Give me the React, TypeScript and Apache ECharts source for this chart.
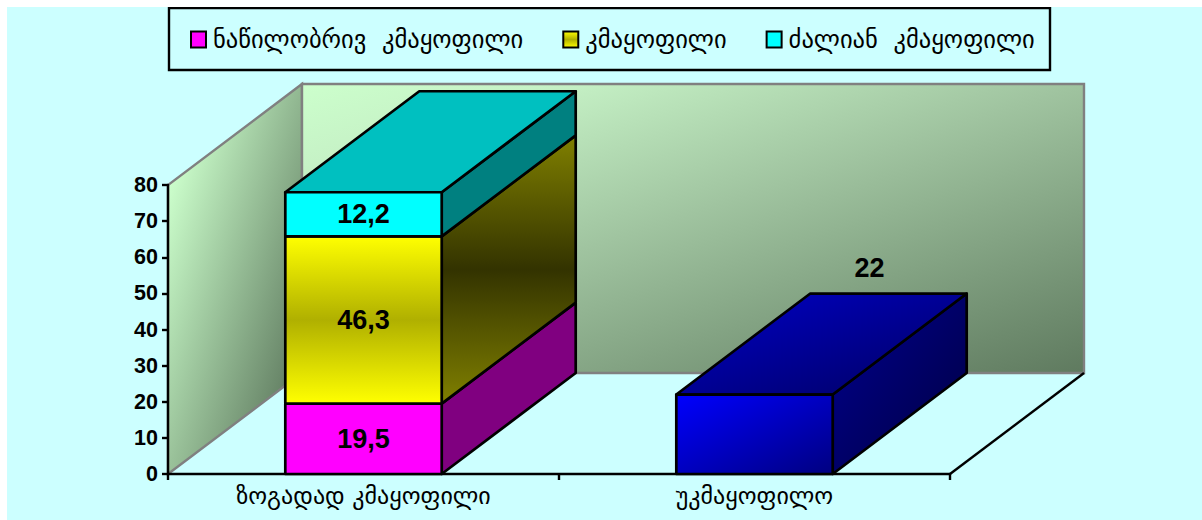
import React, { useEffect, useRef } from "react";
import * as echarts from "echarts";

const categories = ["ზოგადად კმაყოფილი", "უკმაყოფილო"];
const legendNames = ["ნაწილობრივ  კმაყოფილი", "კმაყოფილი", "ძალიან  კმაყოფილი"];
const partlySatisfied = [19.5, null];
const satisfied = [46.3, null];
const verySatisfied = [12.2, null];
const dissatisfied = [null, 22];
const yTicksMax = 80;
const yTickStep = 10;

const GV = (x: number, y: number, x2: number, y2: number, stops: [number, string][]) =>
  new echarts.graphic.LinearGradient(x, y, x2, y2, stops.map(([offset, color]) => ({ offset, color })));
const G = (x2: number, y2: number, stops: [number, string][]) => GV(0, 0, x2, y2, stops);

const DX = 134;
const DY = -101;
const LABEL_FONT = "bold 27px 'Liberation Sans', Arial, sans-serif";

const yellowFront = () => G(0, 1, [[0, "#FFFF00"], [0.5, "#B0B000"], [1, "#FFFF00"]]);
const blueFront = () => G(1, 1, [[0, "#0000FF"], [1, "#000080"]]);

const paints: Record<string, any> = {
  magenta: { front: () => "#FF00FF", side: () => "#800080", top: () => "#C000C0" },
  yellow: {
    front: yellowFront,
    side: () => G(0, 1, [[0, "#808000"], [0.5, "#333300"], [1, "#808000"]]),
    top: () => "#C0C000",
  },
  cyan: { front: () => "#00FFFF", side: () => "#008080", top: () => "#00C0C0" },
  blue: {
    front: blueFront,
    side: () => G(1, 1, [[0, "#000090"], [1, "#000040"]]),
    top: () => G(1, 1, [[0, "#0000C8"], [1, "#000060"]]),
  },
};

const rows = (values: (number | null)[], bases: (number | null)[][]) =>
  values.flatMap((v, i) => {
    if (v == null) return [];
    const base = bases.reduce((s, b) => s + (b[i] ?? 0), 0);
    return [[i, base, base + v, v]];
  });

const fmt = (v: number) => String(v).replace(".", ",");

function barRenderer(paint: string, isTop: boolean, labelAbove: boolean) {
  return (_p: any, api: any) => {
    const cat = api.value(0);
    const lo = api.coord([cat, api.value(1)]);
    const hi = api.coord([cat, api.value(2)]);
    const w = api.size([1, 0])[0] * 0.4;
    const x0 = lo[0] - w / 2;
    const x1 = lo[0] + w / 2;
    const stroke = { stroke: "#000", lineWidth: 2.7, lineJoin: "round" };
    const p = paints[paint];
    const children: any[] = [
      {
        type: "polygon",
        shape: { points: [[x1, lo[1]], [x1 + DX, lo[1] + DY], [x1 + DX, hi[1] + DY], [x1, hi[1]]] },
        style: { fill: p.side(), ...stroke },
      },
    ];
    if (isTop) {
      children.push({
        type: "polygon",
        shape: { points: [[x0, hi[1]], [x1, hi[1]], [x1 + DX, hi[1] + DY], [x0 + DX, hi[1] + DY]] },
        style: { fill: p.top(), ...stroke },
      });
    }
    children.push({
      type: "rect",
      shape: { x: x0, y: hi[1], width: x1 - x0, height: lo[1] - hi[1] },
      style: { fill: p.front(), ...stroke },
    });
    const text = fmt(api.value(3));
    children.push({
      type: "text",
      style: {
        text,
        font: LABEL_FONT,
        fill: "#000",
        align: "center",
        verticalAlign: "middle",
        x: labelAbove ? lo[0] + 115 : lo[0],
        y: labelAbove ? hi[1] - 127 : (lo[1] + hi[1]) / 2,
      },
      z2: 10,
    });
    return { type: "group", children };
  };
}

function wallRenderer(_p: any, api: any) {
  const bl = api.coord([0, 0]);
  const tl = api.coord([0, yTicksMax]);
  const size = api.size([1, 0])[0];
  const xL = bl[0] - size / 2;
  const xR = xL + size * categories.length;
  const yB = bl[1];
  const yT = tl[1];
  const wallStroke = { stroke: "#808080", lineWidth: 2.4 };
  const light = "#CCFFCC";
  const dark = "#5F7A5F";
  return {
    type: "group",
    children: [
      {
        type: "polygon",
        shape: { points: [[xL, yB], [xL + DX, yB + DY], [xL + DX, yT + DY], [xL, yT]] },
        style: { fill: GV(0, 0.26, 1.062, 1.21, [[0, light], [0.75, dark], [1, dark]]), ...wallStroke },
      },
      {
        type: "rect",
        shape: { x: xL + DX, y: yT + DY, width: xR - xL, height: yB - yT },
        style: {
          fill: G(0.948, 1.047, [[0, light], [0.15, "#C6F2C6"], [0.47, "#A0C4A0"], [1, dark]]),
          ...wallStroke,
        },
      },
      {
        type: "line",
        shape: { x1: xR, y1: yB, x2: xR + DX, y2: yB + DY },
        style: { stroke: "#000", lineWidth: 2.4 },
      },
    ],
  };
}

export default function App() {
  const ref = useRef<HTMLDivElement>(null);
  useEffect(() => {
    const chart = echarts.init(ref.current!, undefined, { renderer: "svg" });
    const custom = (name: string, data: any[], renderItem: any, color: any) => ({
      type: "custom",
      name,
      data,
      renderItem,
      encode: { x: 0, y: [1, 2] },
      itemStyle: { color },
      silent: true,
    });
    chart.setOption({
      animation: false,
      backgroundColor: "#CCFFFF",
      grid: { left: 161, top: 178, width: 782, height: 289, containLabel: false },
      graphic: [
        {
          type: "rect",
          z: 1,
          shape: { x: 162, y: 1, width: 881, height: 62 },
          style: { fill: "#CCFFFF", stroke: "#000", lineWidth: 2.4 },
        },
      ],
      legend: {
        data: [
          { name: legendNames[0], itemStyle: { color: "#FF00FF", borderColor: "#000", borderWidth: 2 } },
          { name: legendNames[1], itemStyle: { color: yellowFront(), borderColor: "#000", borderWidth: 2 } },
          { name: legendNames[2], itemStyle: { color: "#00FFFF", borderColor: "#000", borderWidth: 2 } },
        ],
        left: 183,
        top: 20,
        padding: 0,
        itemWidth: 15,
        itemHeight: 16,
        itemGap: 39,
        icon: "rect",
        selectedMode: false,
        z: 5,
        textStyle: { fontFamily: "'DejaVu Sans'", fontSize: 24.5, color: "#000", padding: [0, 0, 0, 2] },
      },
      xAxis: {
        type: "category",
        data: categories,
        axisLine: { lineStyle: { color: "#000", width: 2.4 } },
        axisTick: { show: true, alignWithLabel: false, length: 6, lineStyle: { color: "#000", width: 2.4 } },
        axisLabel: { color: "#000", fontFamily: "'DejaVu Sans'", fontSize: 24, margin: 10 },
        splitLine: { show: false },
        z: 3,
      },
      yAxis: {
        type: "value",
        min: 0,
        max: yTicksMax,
        interval: yTickStep,
        axisLine: { show: true, lineStyle: { color: "#000", width: 2.4 } },
        axisTick: { show: true, length: 6, lineStyle: { color: "#000", width: 2.4 } },
        axisLabel: {
          color: "#000",
          fontFamily: "'Liberation Sans', Arial, sans-serif",
          fontWeight: "bold",
          fontSize: 21.5,
          margin: 10,
        },
        splitLine: { show: false },
        z: 3,
      },
      series: [
        { ...custom("walls", [[0, 0, yTicksMax]], wallRenderer, "#CCFFCC"), z: 1 },
        { ...custom(legendNames[0], rows(partlySatisfied, []), barRenderer("magenta", false, false), "#FF00FF"), z: 4 },
        { ...custom(legendNames[1], rows(satisfied, [partlySatisfied]), barRenderer("yellow", false, false), "#C0C000"), z: 5 },
        { ...custom(legendNames[2], rows(verySatisfied, [partlySatisfied, satisfied]), barRenderer("cyan", true, false), "#00FFFF"), z: 6 },
        { ...custom("უკმაყოფილო", rows(dissatisfied, []), barRenderer("blue", true, true), "#0000FF"), z: 4 },
      ],
    });
    return () => chart.dispose();
  }, []);
  return (
    <div
      ref={ref}
      style={{ position: "absolute", left: 7, top: 7, width: 1195, height: 513, overflow: "hidden" }}
    />
  );
}
